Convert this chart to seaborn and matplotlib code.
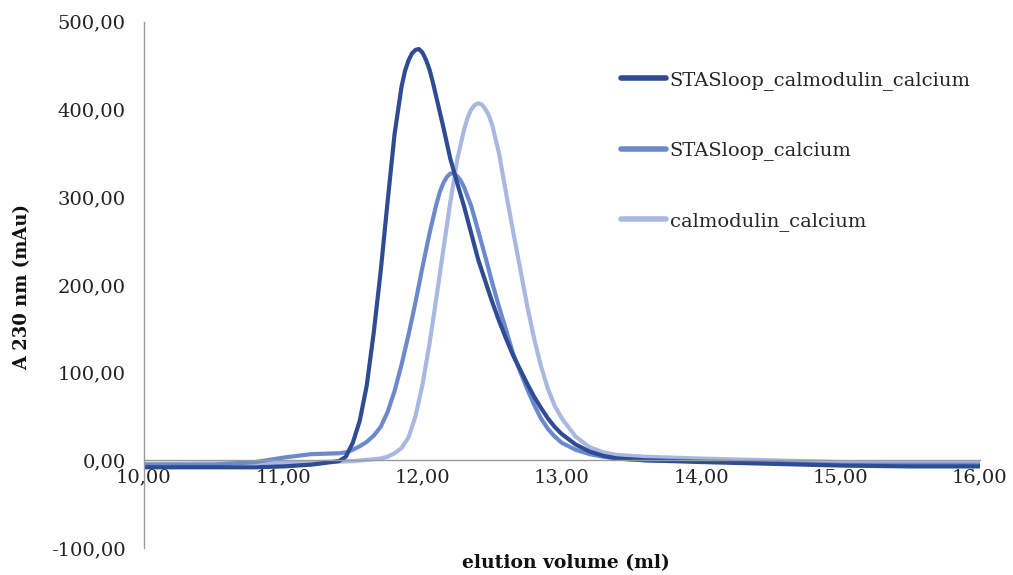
import matplotlib
matplotlib.use("Agg")
import matplotlib.pyplot as plt
from matplotlib.ticker import FuncFormatter
from matplotlib.lines import Line2D
import seaborn as sns
import pandas as pd

# ---- data ----
series_names = ["STASloop_calmodulin_calcium", "STASloop_calcium", "calmodulin_calcium"]
series_colors = ["#2E4C94", "#6D89CE", "#A9B8E1"]

stas_cam_ca_x = [10.0, 10.5, 10.8, 11.0, 11.2, 11.4, 11.45, 11.5, 11.55, 11.6, 11.65, 11.7,
                 11.75, 11.8, 11.85, 11.875, 11.9, 11.925, 11.95, 11.975, 12.0, 12.025,
                 12.05, 12.075, 12.1, 12.15, 12.2, 12.25, 12.3, 12.35, 12.4, 12.45, 12.5,
                 12.55, 12.6, 12.65, 12.7, 12.75, 12.8, 12.85, 12.9, 12.95, 13.0, 13.1,
                 13.2, 13.3, 13.4, 13.6, 14.0, 14.5, 15.0, 15.5, 16.0]
stas_cam_ca_y = [-8, -8, -8, -7, -5, -1, 4, 20, 45, 85, 145, 215,
                 295, 372, 426, 444, 456, 464, 468, 469, 465, 457,
                 446, 431, 414, 380, 344, 316, 289, 259, 229, 205, 181,
                 159, 139, 120, 104, 88, 73, 60, 48, 38, 30, 18,
                 10, 5, 2, 0, -2, -4, -6, -7, -7]

stas_ca_x = [10.0, 10.5, 10.8, 11.0, 11.2, 11.4, 11.45, 11.5, 11.55, 11.6, 11.65, 11.7,
             11.75, 11.8, 11.85, 11.9, 11.95, 12.0, 12.05, 12.1, 12.125, 12.15, 12.175,
             12.2, 12.225, 12.25, 12.275, 12.3, 12.35, 12.4, 12.45, 12.5, 12.55, 12.6,
             12.65, 12.7, 12.75, 12.8, 12.85, 12.9, 12.95, 13.0, 13.1, 13.2, 13.3, 13.4,
             13.6, 14.0, 14.5, 15.0, 15.5, 16.0]
stas_ca_y = [-5, -5, -2, 3, 7, 8, 9, 12, 16, 21, 28, 38,
             55, 79, 109, 143, 180, 220, 258, 292, 306, 316, 323,
             327, 327, 324, 319, 311, 290, 262, 233, 203, 175, 149,
             122, 102, 82, 64, 48, 36, 27, 20, 12, 7, 4, 2,
             0, -1, -3, -5, -5, -5]

cam_ca_x = [10.0, 11.0, 11.5, 11.7, 11.75, 11.8, 11.85, 11.9, 11.95, 12.0, 12.05, 12.1,
            12.15, 12.2, 12.25, 12.3, 12.325, 12.35, 12.375, 12.4, 12.425, 12.45, 12.475,
            12.5, 12.55, 12.6, 12.65, 12.7, 12.75, 12.8, 12.85, 12.9, 12.95, 13.0, 13.1,
            13.2, 13.3, 13.4, 13.6, 14.0, 14.5, 15.0, 15.5, 16.0]
cam_ca_y = [-4, -3, -1, 2, 4, 8, 14, 26, 50, 86, 132, 185,
            240, 294, 343, 378, 391, 400, 405, 407, 406, 401, 394,
            383, 350, 305, 262, 220, 178, 140, 108, 82, 62, 48, 27,
            15, 9, 6, 4, 2, 0, -2, -3, -3]

x_ticks = [10, 11, 12, 13, 14, 15, 16]
y_ticks = [-100, 0, 100, 200, 300, 400, 500]

frames = [
    pd.DataFrame({"volume": stas_cam_ca_x, "absorbance": stas_cam_ca_y, "sample": series_names[0]}),
    pd.DataFrame({"volume": stas_ca_x, "absorbance": stas_ca_y, "sample": series_names[1]}),
    pd.DataFrame({"volume": cam_ca_x, "absorbance": cam_ca_y, "sample": series_names[2]}),
]
df = pd.concat(frames, ignore_index=True)

# ---- style ----
sns.set_style("white")
plt.rcParams["font.family"] = ["DejaVu Serif"]
plt.rcParams["lines.solid_joinstyle"] = "round"
plt.rcParams["lines.solid_capstyle"] = "round"

fig = plt.figure(figsize=(10.13, 5.75), dpi=100)
ax = fig.add_axes([0.142, 0.047, 0.825, 0.915])

palette = dict(zip(series_names, series_colors))
sns.lineplot(data=df, x="volume", y="absorbance", hue="sample",
             hue_order=series_names[::-1], palette=palette,
             linewidth=3.0, ax=ax, legend=False, sort=False)

ax.set_xlim(10, 16)
ax.set_ylim(-100, 500)
ax.set_xticks(x_ticks)
ax.set_yticks(y_ticks)
fmt = FuncFormatter(lambda v, p: f"{v:.2f}".replace(".", ","))
ax.xaxis.set_major_formatter(fmt)
ax.yaxis.set_major_formatter(fmt)

for s in ["top", "right"]:
    ax.spines[s].set_visible(False)
ax.spines["bottom"].set_position(("data", 0))
for s in ["left", "bottom"]:
    ax.spines[s].set_color("#9A9A9A")
    ax.spines[s].set_linewidth(1.0)

ax.tick_params(axis="x", direction="out", length=4, width=1, color="#9A9A9A",
               pad=2, labelsize=14, labelcolor="#222222")
ax.tick_params(axis="y", direction="out", length=5, width=1, color="#9A9A9A",
               pad=8, labelsize=14, labelcolor="#222222")
ax.set_xlabel("")
ax.set_ylabel("")

fig.text(566 / 1013, 1 - 563 / 575, "elution volume (ml)", ha="center", va="center",
         fontsize=13.5, fontweight="bold", color="#111111")
fig.text(22 / 1013, 0.5, "A 230 nm (mAu)", ha="center", va="center", rotation=90,
         fontsize=13, fontweight="bold", color="#111111")

handles = [Line2D([0], [0], color=c, lw=4) for c in series_colors]
ax.legend(handles, series_names, loc="upper left",
          bbox_to_anchor=(621 / 1013, 1 - 71 / 575), bbox_transform=fig.transFigure,
          frameon=False, fontsize=14, handlelength=2.3, handletextpad=0.2,
          labelspacing=2.65, borderaxespad=0, borderpad=0)

fig.savefig("out.png", dpi=100)
